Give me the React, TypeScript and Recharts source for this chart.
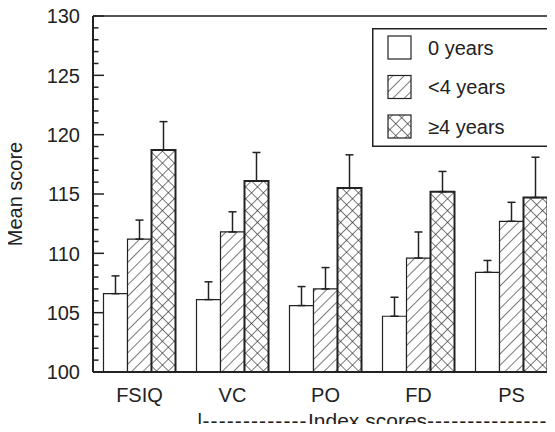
import { BarChart, Bar, XAxis, YAxis, ErrorBar, Legend, ReferenceLine } from 'recharts';

const categories = ['FSIQ', 'VC', 'PO', 'FD', 'PS'];
const seriesNames = ['0 years', '<4 years', '≥4 years'];

// mean scores per group
const mean0 = [106.6, 106.1, 105.6, 104.7, 108.4];
const mean1 = [111.2, 111.8, 107.0, 109.6, 112.7];
const mean2 = [118.7, 116.1, 115.5, 115.2, 114.7];

// upper error (top of whisker minus mean)
const err0 = [1.5, 1.5, 1.6, 1.6, 1.0];
const err1 = [1.6, 1.7, 1.8, 2.2, 1.6];
const err2 = [2.4, 2.4, 2.8, 1.7, 3.4];

const majorTicks = [100, 105, 110, 115, 120, 125, 130];
const allTicks = [
  100, 101, 102, 103, 104, 105, 106, 107, 108, 109, 110, 111, 112, 113, 114, 115,
  116, 117, 118, 119, 120, 121, 122, 123, 124, 125, 126, 127, 128, 129, 130,
];

const data = categories.map((name, i) => ({
  name,
  m0: mean0[i],
  m1: mean1[i],
  m2: mean2[i],
  e0: [0, err0[i]],
  e1: [0, err1[i]],
  e2: [0, err2[i]],
}));

const FONT = '"Liberation Sans", Arial, Helvetica, sans-serif';
const INK = '#222';

const YTick = (props: any) => {
  const { x, y, payload } = props;
  const major = majorTicks.includes(payload.value);
  return (
    <g>
      <line x1={x} x2={x + (major ? 11 : 5.5)} y1={y} y2={y} stroke={INK} strokeWidth={1.5} />
      {major && (
        <text x={x - 13} y={y} dy="0.36em" textAnchor="end" fontSize={20} fontFamily={FONT} fill={INK}>
          {payload.value}
        </text>
      )}
    </g>
  );
};

const YLabel = (props: any) => {
  const { viewBox } = props;
  const cy = viewBox.y + viewBox.height / 2;
  return (
    <text
      x={7}
      y={cy}
      transform={`rotate(-90, 7, ${cy})`}
      textAnchor="middle"
      dominantBaseline="central"
      fontSize={20}
      fontFamily={FONT}
      fill={INK}
    >
      Mean score
    </text>
  );
};

// "|-----Index scores-----|" bracket spanning VC..PS
const IndexLabel = (props: any) => {
  const { viewBox } = props;
  const left = viewBox.x + viewBox.width / 5 + 11;
  const rightBar = viewBox.x + viewBox.width - 6;
  const y = viewBox.y + 48;
  const common = { y, dominantBaseline: 'central' as const, fontSize: 21, fontFamily: FONT, fill: INK };
  return (
    <g>
      <text x={left} textAnchor="start" {...common}>
        |<tspan letterSpacing={1.1}>-------------</tspan>
      </text>
      <text x={left + 111} textAnchor="start" {...common}>
        Index scores
      </text>
      <text x={left + 230} textAnchor="start" {...common}>
        <tspan letterSpacing={1.05}>---------------</tspan>
      </text>
      <line x1={rightBar} x2={rightBar} y1={y - 9} y2={y + 9} stroke={INK} strokeWidth={1.8} />
    </g>
  );
};

const LegendBox = (props: any) => {
  const { payload } = props;
  return (
    <svg width={183} height={119} style={{ display: 'block' }}>
      <rect x={0.75} y={0.75} width={181.5} height={117.5} fill="#fff" stroke={INK} strokeWidth={1.5} />
      {(payload || []).map((entry: any, i: number) => {
        const top = 8 + i * 39.5;
        return (
          <g key={entry.value}>
            <rect x={16} y={top} width={23} height={23} fill={entry.color} stroke={INK} strokeWidth={1.2} />
            <text x={56} y={top + 11.5} dy="0.36em" fontSize={20} fontFamily={FONT} fill={INK}>
              {entry.value}
            </text>
          </g>
        );
      })}
    </svg>
  );
};

const App = () => {
  return (
    <div style={{ marginBottom: -8 }}>
      <style>{'.recharts-surface { overflow: visible !important; }'}</style>
      <BarChart
        width={547}
        height={424}
        data={data}
        margin={{ top: 8, right: -3, bottom: 0, left: 0 }}
        barCategoryGap={10.5}
        barGap={0}
      >
        <defs>
          <pattern id="hatch" patternUnits="userSpaceOnUse" width={8} height={8} patternTransform="rotate(45)">
            <rect width={8} height={8} fill="#fff" />
            <line x1={0} y1={0} x2={0} y2={8} stroke={INK} strokeWidth={1.2} />
          </pattern>
          <pattern id="cross" patternUnits="userSpaceOnUse" width={8.4} height={8.4} patternTransform="rotate(45)">
            <rect width={8.4} height={8.4} fill="#fff" />
            <line x1={0} y1={0} x2={0} y2={8.4} stroke={INK} strokeWidth={1.2} />
            <line x1={0} y1={0} x2={8.4} y2={0} stroke={INK} strokeWidth={1.2} />
          </pattern>
        </defs>
        <XAxis
          dataKey="name"
          height={60}
          tickLine={false}
          axisLine={{ stroke: INK, strokeWidth: 2 }}
          tick={{ fontSize: 20, fontFamily: FONT, fill: INK }}
          tickMargin={10}
          label={<IndexLabel />}
        />
        <YAxis
          domain={[100, 130]}
          ticks={allTicks}
          interval={0}
          width={85}
          tickSize={0}
          tickMargin={0}
          tickLine={false}
          axisLine={{ stroke: INK, strokeWidth: 2 }}
          tick={<YTick />}
          allowDataOverflow
          label={<YLabel />}
        />
        <ReferenceLine y={130} stroke="#555" strokeWidth={2} />
        <Legend
          layout="horizontal"
          verticalAlign="middle"
          align="center"
          content={<LegendBox />}
          wrapperStyle={{ left: 364, top: 20, width: 183, height: 119 }}
        />
        <Bar dataKey="m0" name={seriesNames[0]} fill="#fff" stroke={INK} strokeWidth={1.2} isAnimationActive={false}>
          <ErrorBar dataKey="e0" direction="y" width={4} stroke={INK} strokeWidth={1.5} />
        </Bar>
        <Bar dataKey="m1" name={seriesNames[1]} fill="url(#hatch)" stroke={INK} strokeWidth={1.2} isAnimationActive={false}>
          <ErrorBar dataKey="e1" direction="y" width={4} stroke={INK} strokeWidth={1.5} />
        </Bar>
        <Bar dataKey="m2" name={seriesNames[2]} fill="url(#cross)" stroke={INK} strokeWidth={2} isAnimationActive={false}>
          <ErrorBar dataKey="e2" direction="y" width={4} stroke={INK} strokeWidth={1.5} />
        </Bar>
      </BarChart>
    </div>
  );
};

export default App;
